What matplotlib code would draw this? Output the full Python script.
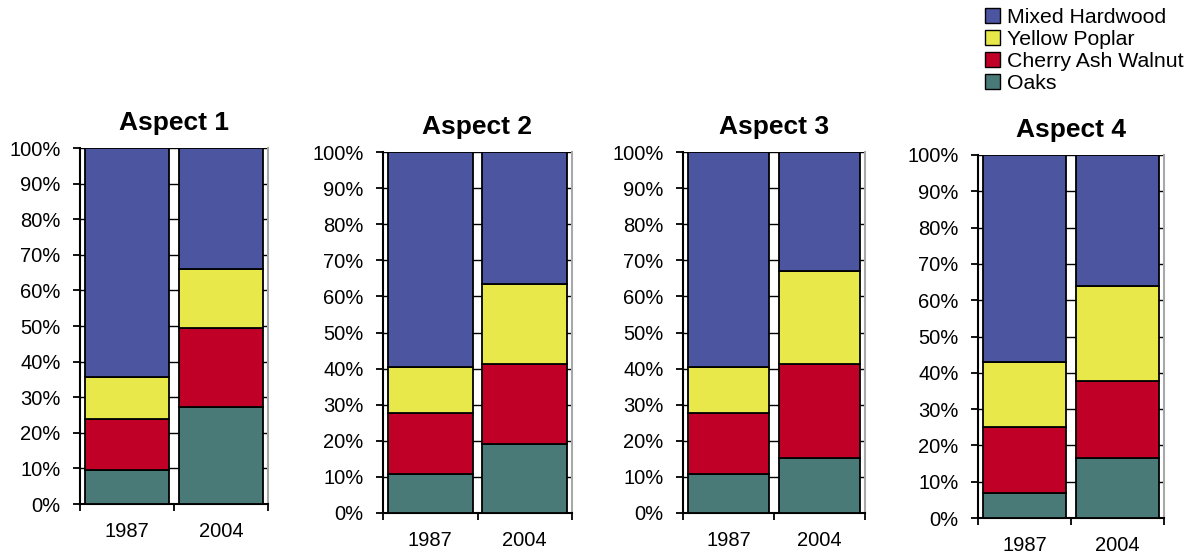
import matplotlib
matplotlib.use("Agg")
import matplotlib.pyplot as plt
from matplotlib.patches import Patch

plt.rcParams['font.family'] = ['Liberation Sans', 'DejaVu Sans']

aspects = ["Aspect 1", "Aspect 2", "Aspect 3", "Aspect 4"]
years = ["1987", "2004"]
species = ["Oaks", "Cherry Ash Walnut", "Yellow Poplar", "Mixed Hardwood"]

# percentage share of each species group, [1987, 2004] per aspect
oaks = [[9.5, 27.3], [10.9, 19.0], [10.9, 15.3], [6.8, 16.6]]
cherry_ash_walnut = [[14.3, 22.2], [16.9, 22.2], [16.8, 25.9], [18.4, 21.1]]
yellow_poplar = [[11.8, 16.5], [12.7, 22.1], [12.8, 25.7], [17.8, 26.1]]
mixed_hardwood = [[64.4, 34.0], [59.5, 36.7], [59.5, 33.1], [57.0, 36.2]]

colors = {
    "Oaks": "#4A7A78",
    "Cherry Ash Walnut": "#C00026",
    "Yellow Poplar": "#E8E84A",
    "Mixed Hardwood": "#4B55A0",
}
series = {
    "Oaks": oaks,
    "Cherry Ash Walnut": cherry_ash_walnut,
    "Yellow Poplar": yellow_poplar,
    "Mixed Hardwood": mixed_hardwood,
}

W, H = 1195, 556
fig = plt.figure(figsize=(W / 100, H / 100), dpi=100)

# panel boxes in pixels: left, right, top, bottom
boxes = [
    (80, 268, 148, 504),
    (383, 572, 152, 513),
    (683, 865, 152, 513),
    (978, 1164, 155, 518),
]

for i, (name, (l, r, t, b)) in enumerate(zip(aspects, boxes)):
    ax = fig.add_axes([l / W, 1 - b / H, (r - l) / W, (b - t) / H])
    xs = [0.5, 1.5]
    bottoms = [0.0, 0.0]
    for sp in species:
        vals = series[sp][i]
        ax.bar(xs, vals, width=0.9, bottom=bottoms, color=colors[sp],
               edgecolor="black", linewidth=1.3, zorder=3)
        bottoms = [bb + v for bb, v in zip(bottoms, vals)]
    ax.set_xlim(0, 2)
    ax.set_ylim(0, 100)
    ax.set_yticks(range(0, 101, 10))
    ax.set_yticklabels([f"{v}%" for v in range(0, 101, 10)])
    ax.set_xticks([0, 1, 2])
    ax.set_xticklabels([])
    ax.set_xticks(xs, minor=True)
    ax.set_xticklabels(years, minor=True)
    ax.tick_params(axis="x", which="minor", length=0, pad=13, labelsize=14.5)
    ax.tick_params(axis="x", which="major", direction="out", length=5, width=1.3)
    ax.tick_params(axis="y", direction="out", length=5, width=1.3, pad=9, labelsize=14.5)
    ax.yaxis.grid(True, color="black", linewidth=1.0, zorder=0)
    ax.set_axisbelow(True)
    ax.spines["top"].set_visible(False)
    ax.spines["right"].set_color("#A8A8A8")
    ax.spines["right"].set_linewidth(1.5)
    ax.spines["left"].set_linewidth(1.5)
    ax.spines["bottom"].set_linewidth(1.5)
    ax.set_title(name, fontsize=19, fontweight="bold", pad=13)

handles = [Patch(facecolor=colors[s], edgecolor="black", linewidth=1.0)
           for s in reversed(species)]
fig.legend(handles, list(reversed(species)), loc="upper left",
           bbox_to_anchor=(985 / W, 1 - 8 / H), frameon=False,
           fontsize=15.3, handlelength=0.7, handleheight=0.7,
           handletextpad=0.35, labelspacing=0.14, borderpad=0, borderaxespad=0)

fig.savefig("out.png", dpi=100)
